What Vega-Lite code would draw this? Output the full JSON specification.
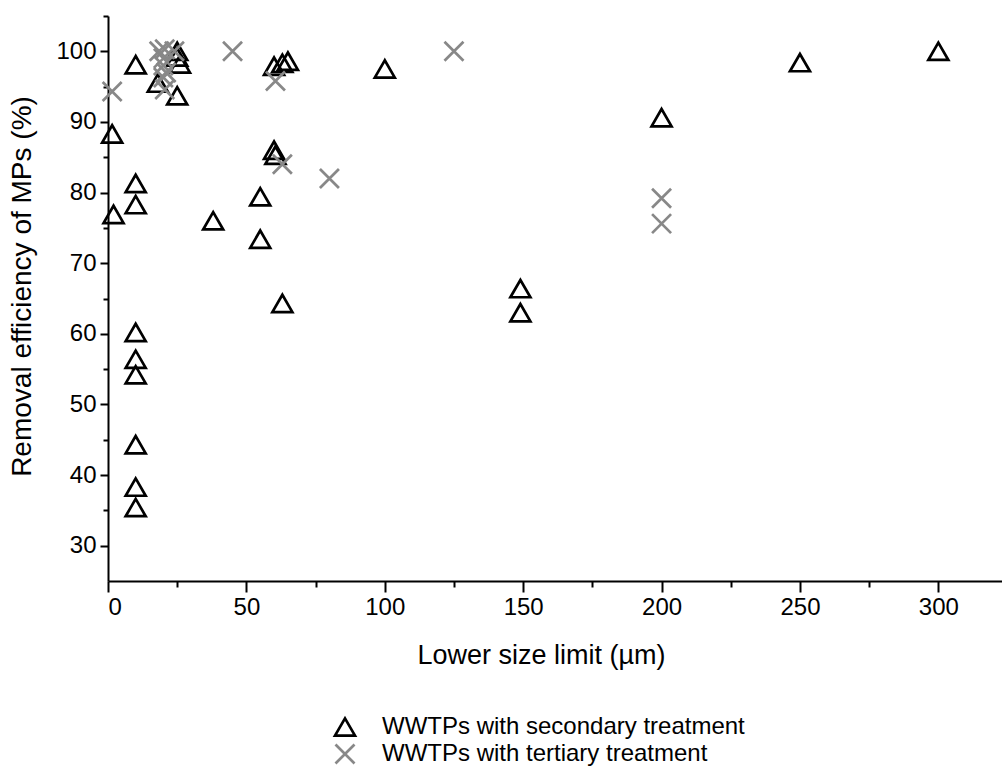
{
  "$schema": "https://vega.github.io/schema/vega-lite/v6.json",
  "autosize": "none",
  "width": 894,
  "height": 565,
  "padding": {"left": 108, "top": 16, "right": 0, "bottom": 195},
  "background": "white",
  "config": {
    "view": {"stroke": null},
    "font": "Liberation Sans",
    "axis": {"grid": false, "labelColor": "black", "titleColor": "black", "domainColor": "black", "tickColor": "black", "labelFont": "Liberation Sans", "titleFont": "Liberation Sans", "titleFontWeight": "normal"}
  },
  "data": {"values": [
    {"x": 1.5, "y": 88.3, "t": "WWTPs with secondary treatment"},
    {"x": 2, "y": 76.9, "t": "WWTPs with secondary treatment"},
    {"x": 10, "y": 98.1, "t": "WWTPs with secondary treatment"},
    {"x": 10, "y": 81.3, "t": "WWTPs with secondary treatment"},
    {"x": 10, "y": 78.3, "t": "WWTPs with secondary treatment"},
    {"x": 10, "y": 60.2, "t": "WWTPs with secondary treatment"},
    {"x": 10, "y": 56.4, "t": "WWTPs with secondary treatment"},
    {"x": 10, "y": 54.2, "t": "WWTPs with secondary treatment"},
    {"x": 10, "y": 44.3, "t": "WWTPs with secondary treatment"},
    {"x": 10, "y": 38.3, "t": "WWTPs with secondary treatment"},
    {"x": 10, "y": 35.4, "t": "WWTPs with secondary treatment"},
    {"x": 18, "y": 95.5, "t": "WWTPs with secondary treatment"},
    {"x": 25, "y": 100, "t": "WWTPs with secondary treatment"},
    {"x": 25, "y": 99.2, "t": "WWTPs with secondary treatment"},
    {"x": 26, "y": 98.2, "t": "WWTPs with secondary treatment"},
    {"x": 25, "y": 93.7, "t": "WWTPs with secondary treatment"},
    {"x": 38, "y": 76, "t": "WWTPs with secondary treatment"},
    {"x": 55, "y": 79.4, "t": "WWTPs with secondary treatment"},
    {"x": 55, "y": 73.4, "t": "WWTPs with secondary treatment"},
    {"x": 60, "y": 86, "t": "WWTPs with secondary treatment"},
    {"x": 60.5, "y": 85.3, "t": "WWTPs with secondary treatment"},
    {"x": 63, "y": 64.3, "t": "WWTPs with secondary treatment"},
    {"x": 60, "y": 97.9, "t": "WWTPs with secondary treatment"},
    {"x": 63, "y": 98.3, "t": "WWTPs with secondary treatment"},
    {"x": 65, "y": 98.6, "t": "WWTPs with secondary treatment"},
    {"x": 100, "y": 97.5, "t": "WWTPs with secondary treatment"},
    {"x": 149, "y": 66.4, "t": "WWTPs with secondary treatment"},
    {"x": 149, "y": 63, "t": "WWTPs with secondary treatment"},
    {"x": 200, "y": 90.6, "t": "WWTPs with secondary treatment"},
    {"x": 250, "y": 98.4, "t": "WWTPs with secondary treatment"},
    {"x": 300, "y": 100, "t": "WWTPs with secondary treatment"},
    {"x": 1.5, "y": 94.3, "t": "WWTPs with tertiary treatment"},
    {"x": 18.5, "y": 100, "t": "WWTPs with tertiary treatment"},
    {"x": 20.5, "y": 100.3, "t": "WWTPs with tertiary treatment"},
    {"x": 20, "y": 99, "t": "WWTPs with tertiary treatment"},
    {"x": 20, "y": 98, "t": "WWTPs with tertiary treatment"},
    {"x": 21, "y": 97, "t": "WWTPs with tertiary treatment"},
    {"x": 20, "y": 96.3, "t": "WWTPs with tertiary treatment"},
    {"x": 20.5, "y": 94.6, "t": "WWTPs with tertiary treatment"},
    {"x": 24, "y": 100, "t": "WWTPs with tertiary treatment"},
    {"x": 45, "y": 100, "t": "WWTPs with tertiary treatment"},
    {"x": 60.5, "y": 95.8, "t": "WWTPs with tertiary treatment"},
    {"x": 63, "y": 84, "t": "WWTPs with tertiary treatment"},
    {"x": 80, "y": 82, "t": "WWTPs with tertiary treatment"},
    {"x": 125, "y": 100, "t": "WWTPs with tertiary treatment"},
    {"x": 200, "y": 79.2, "t": "WWTPs with tertiary treatment"},
    {"x": 200, "y": 75.6, "t": "WWTPs with tertiary treatment"}
  ]},
  "layer": [
    {
      "mark": {"type": "point", "filled": false, "size": 400, "strokeWidth": 2.7, "opacity": 1},
      "encoding": {
        "x": {"field": "x", "type": "quantitative", "scale": {"domain": [0, 323], "nice": false, "zero": false},
          "axis": {"orient": "bottom", "values": [0, 50, 100, 150, 200, 250, 300], "tickSize": 11, "tickWidth": 2, "domainWidth": 2, "labelFontSize": 24, "labelPadding": 3, "title": "Lower size limit (µm)", "titleFontSize": 27, "titleX": 433, "titleY": 74, "titleBaseline": "middle"}},
        "y": {"field": "y", "type": "quantitative", "scale": {"domain": [25, 105], "nice": false, "zero": false},
          "axis": {"orient": "left", "values": [30, 40, 50, 60, 70, 80, 90, 100], "tickSize": 8, "tickWidth": 2, "domainWidth": 2, "labelFontSize": 24, "labelPadding": 4, "title": "Removal efficiency of MPs (%)", "titleFontSize": 28, "titleX": -86, "titleY": 270, "titleBaseline": "middle"}},
        "shape": {"field": "t", "type": "nominal", "scale": {"domain": ["WWTPs with secondary treatment", "WWTPs with tertiary treatment"], "range": ["triangle-up", "M-0.95,-0.95L0.95,0.95M-0.95,0.95L0.95,-0.95"]},
          "legend": {"title": null, "orient": "none", "legendX": 225, "legendY": 699, "labelFontSize": 24, "labelColor": "black", "labelFont": "Liberation Sans", "labelLimit": 0, "symbolSize": 400, "symbolStrokeWidth": 2.7, "labelOffset": 25, "rowPadding": -6, "symbolOpacity": 1}},
        "color": {"field": "t", "type": "nominal", "scale": {"domain": ["WWTPs with secondary treatment", "WWTPs with tertiary treatment"], "range": ["black", "#888888"]},
          "legend": {"title": null, "orient": "none", "legendX": 225, "legendY": 699, "labelFontSize": 24, "labelColor": "black", "labelFont": "Liberation Sans", "labelLimit": 0, "symbolSize": 400, "symbolStrokeWidth": 2.7, "labelOffset": 25, "rowPadding": -6, "symbolOpacity": 1}}
      }
    },
    {
      "mark": {"type": "point", "opacity": 0},
      "encoding": {
        "x": {"field": "x", "type": "quantitative", "axis": {"orient": "bottom", "values": [25, 75, 125, 175, 225, 275], "tickSize": 6, "tickWidth": 2, "labels": false, "domain": false, "title": null}},
        "y": {"field": "y", "type": "quantitative", "axis": {"orient": "left", "values": [35, 45, 55, 65, 75, 85, 95, 105], "tickSize": 5, "tickWidth": 2, "labels": false, "domain": false, "title": null}}
      }
    }
  ],
  "resolve": {"axis": {"x": "independent", "y": "independent"}}
}
